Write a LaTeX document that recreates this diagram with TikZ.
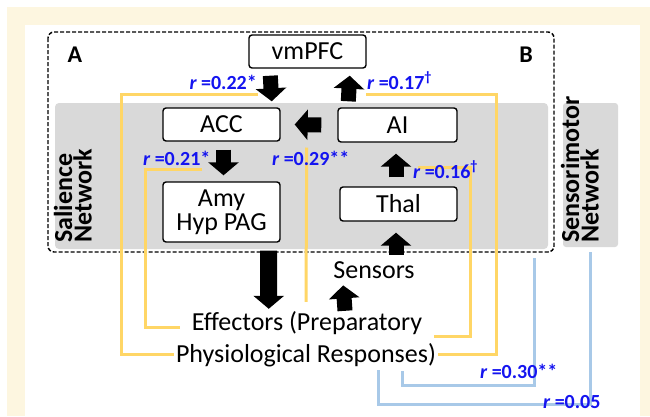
\documentclass[tikz,border=0pt]{standalone}
\usepackage{fontspec}
\setmainfont{Carlito}
\usetikzlibrary{calc}
\usetikzlibrary{arrows.meta}
\definecolor{cream}{RGB}{253,246,224}
\definecolor{salgray}{RGB}{217,217,217}
\definecolor{yel}{RGB}{255,214,102}
\definecolor{lblue}{RGB}{168,201,232}
\definecolor{rblue}{RGB}{20,20,240}
\newcommand{\rval}[1]{{\itshape r} =#1}

\begin{document}
\begin{tikzpicture}[x=1pt,y=-1pt,
    box/.style={draw, line width=1.4pt, rounded corners=3pt, fill=white, minimum width=117pt,
        minimum height=33pt, inner sep=0pt, align=center, font=\fontsize{26}{24}\selectfont},
    txt/.style={inner sep=2pt, font=\fontsize{26}{26}\selectfont},
    corr/.style={inner sep=0pt, text=rblue, font=\fontsize{20}{20}\selectfont\bfseries},
    netlab/.style={rotate=90, anchor=south west, inner sep=0pt, align=left,
        font=\fontsize{26}{18}\selectfont\bfseries},
    blk/.style={line width=15pt, -{Triangle[length=13pt,width=30pt]}},
    yelline/.style={draw=yel, line width=3pt},
    blueline/.style={draw=lblue, line width=3pt}]

    \useasboundingbox (0,0) rectangle (650,416);
    \fill[cream] (7,7) rectangle (650,416);
    \fill[white] (25,25) rectangle (640,416);
    \fill[salgray, rounded corners=4pt] (55,103) rectangle (548,249);
    \fill[salgray, rounded corners=3pt] (563,103) rectangle (618,247);
    \draw[line width=1.4pt, dash pattern=on 4pt off 2pt, rounded corners=6pt] (48,32) rectangle (554,252);

    \node[netlab] (sal) at (92,243) {Salience\\Network};
    \node[netlab] (sens) at (599,243) {Sensorimotor\\Network};
    \node[font=\fontsize{24}{24}\selectfont\bfseries] (la) at (75,54.5) {A};
    \node[font=\fontsize{24}{24}\selectfont\bfseries] (lb) at (526,54.5) {B};

    \coordinate (salc) at (534,258);
    \coordinate (smc) at (590,252);

    \node[box] (vmpfc) at (307.5,51.5) {vmPFC};
    \node[box] (acc) at (221.5,124.5) {ACC};
    \node[box, minimum width=119pt, minimum height=34pt] (ai) at (397.5,125) {AI};
    \node[box, minimum height=60pt] (amy) at (221.5,212) {Amy\\Hyp PAG};
    \node[box, minimum height=34pt] (thal) at (398.5,204) {Thal};
    \node[txt, anchor=base] (sensors) at (374,278) {Sensors};
    \node[txt, anchor=base] (eff1) at (307,330) {Effectors (Preparatory};
    \node[txt, anchor=base] (eff2) at (306,362) {Physiological Responses)};

    \draw[yelline] ($(acc.north east)+(-23,-13)$) -| ($(eff2.west)+(-52,0)$) -- (eff2.west);
    \draw[yelline] ($(amy.north west)+(40,-12)$) -| ($(eff1.west)+(-44,5)$) -- ($(eff1.west)+(-10,5)$);
    \draw[yelline] ($(acc.east)+(26,23)$) -- ($(eff1.north)+(-1,-7)$);
    \draw[yelline] ($(ai.north west)+(29,-13)$) -| ($(eff2.east)+(58,0)$) -- (eff2.east);
    \draw[yelline] ($(thal.north east)+(-40,-19)$) -| ($(eff1.east)+(46,14)$) -- ($(eff1.east)+(10,14)$);
    \draw[blueline] (salc) |- ($(eff2.south)+(96,17)$) -- ($(eff2.south)+(96,2)$);
    \draw[blueline] (smc) |- ($(eff2.south)+(72,36)$) -- ($(eff2.south)+(72,1)$);

    \draw[blk] ($(vmpfc.south west)+(22,7)$) -- ($(acc.north east)+(-9,-6)$);
    \draw[blk] ($(ai.north west)+(11,-6)$) -- ($(vmpfc.south east)+(-17,7)$);
    \draw[blk] ($(ai.west)+(-16,0)$) -- ($(acc.east)+(14,0)$);
    \draw[blk] ($(acc.south)+(2,8)$) -- ($(amy.north)+(2,-6)$);
    \draw[blk] ($(thal.north)+(-2.5,-9)$) -- ($(ai.south)+(-1.5,11)$);
    \draw[blk] ($(sensors.north)+(22,-4)$) -- ($(thal.south)+(-2.5,11)$);
    \draw[blk, line width=17pt] ($(amy.south east)+(-12,8)$) -- ($(eff1.north west)+(79,0)$);
    \draw[blk] ($(eff1.north)+(38,2)$) -- ($(sensors.south west)+(12,5)$);

    \node[corr, anchor=base east] (r22) at (257,89) {\rval{0.22*}};
    \node[corr, anchor=base west] (r17) at (367,89) {\rval{0.17\textsuperscript{†}}};
    \node[corr, anchor=base west] (r21) at (143,165) {\rval{0.21*}};
    \node[corr, anchor=base west] (r29) at (272,165) {\rval{0.29**}};
    \node[corr, anchor=base west] (r16) at (413,178) {\rval{0.16\textsuperscript{†}}};
    \node[corr, anchor=base west] (r30) at (480,378) {\rval{0.30**}};
    \node[corr, anchor=base west] (r05) at (543,408) {\rval{0.05}};

    \end{tikzpicture}
\end{document}
